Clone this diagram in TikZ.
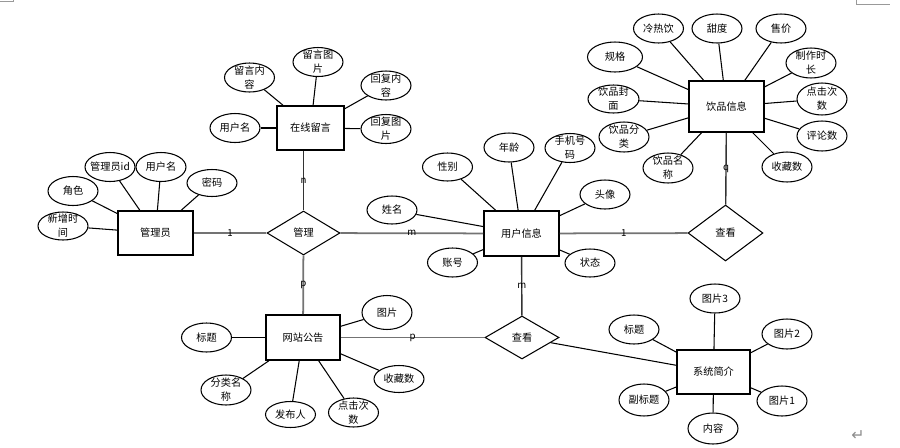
\documentclass[tikz,border=0pt]{standalone}
\usepackage{fontspec}
\setmainfont{Noto Sans CJK SC}
\newfontfamily\symfont{DejaVu Sans}
\usetikzlibrary{shapes.geometric}
\newcommand\attr[4][]{%
  \node[attr,#1] (#2) at (#3) {};
  \node[attrtext] (#2t) at (#2) {#4};}
\begin{document}
\begin{tikzpicture}[x=0.02cm,y=-0.02cm,
  txt/.style={font=\fontsize{5.8}{8}\selectfont},
  entity/.style={draw, line width=0.9pt, minimum width=1.5cm, minimum height=0.88cm, inner sep=0pt, txt},
  attr/.style={draw, ellipse, line width=0.6pt, minimum width=1cm, minimum height=0.58cm, inner sep=0pt},
  attrtext/.style={align=center, inner sep=0pt, txt},
  rel/.style={draw, diamond, line width=0.6pt, inner sep=0pt, minimum width=1.46cm, minimum height=0.88cm, txt},
  attrline/.style={line width=0.6pt},
  relline/.style={line width=1pt, draw=black!55},
  relthin/.style={line width=0.8pt, draw=black!80},
  card/.style={font=\fontsize{5.5}{6}\selectfont, inner sep=0pt},
  pagemark/.style={draw=black!40, line width=0.5pt}
]
\useasboundingbox (0,0) rectangle (900,447);

% entities
\node[entity] (admin) at (155.5,233) {管理员};
\node[entity, minimum width=1.34cm] (msg) at (310.5,128) {在线留言};
\node[entity, minimum height=0.9cm] (user) at (521.5,233.5) {用户信息};
\node[entity, minimum height=1.02cm] (drink) at (726.5,106.5) {饮品信息};
\node[entity, minimum width=1.48cm, minimum height=0.9cm] (notice) at (303,337.5) {网站公告};
\node[entity, minimum width=1.46cm] (intro) at (713.5,372) {系统简介};

% relationships
\node[rel] (manage) at (303.5,233) {管理};
\node[rel, minimum width=1.5cm, minimum height=1.12cm] (view1) at (725.5,233) {查看};
\node[rel, minimum width=1.48cm, minimum height=0.86cm] (view2) at (522,337.5) {查看};

% relationship lines
\draw[relline] (admin) -- node[card]{1} (manage);
\draw[relline] (manage) -- node[card]{m} (user);
\draw[relthin] (manage.north) -- node[card]{n} (manage.north |- msg.south);
\draw[relline] (manage) -- node[card]{p} (notice);
\draw[relline] (user) -- node[card]{1} (view1);
\draw[relthin] (drink) -- node[card]{q} (view1);
\draw[relthin] (user) -- node[card]{m} (view2);
\draw[relline] (notice) -- node[card]{p} (view2);
\draw[attrline] (view2) -- (intro);

% admin attributes
\attr{a1}{73,191}{角色}
\attr{a2}{110,167}{管理员id}
\attr{a3}{161,167}{用户名}
\attr[minimum height=0.54cm]{a4}{212,183}{密码}
\attr[minimum height=0.56cm]{a5}{63,226}{新增时\\间}
\foreach \a in {a1,a2,a3,a4,a5} \draw[attrline] (\a) -- (admin);

% message attributes
\attr{m1}{249.5,77.5}{留言内\\容}
\attr{m2}{318,62}{留言图\\片}
\attr{m3}{386,85.5}{回复内\\容}
\attr{m4}{386,129}{回复图\\片}
\attr{m5}{235,128}{用户名}
\foreach \a in {m1,m2,m3,m4,m5} \draw[attrline] (\a) -- (msg);

% user attributes
\attr[minimum height=0.56cm]{u1}{447.5,167}{性别}
\attr{u2}{509,147.5}{年龄}
\attr{u3}{570,148}{手机号\\码}
\attr{u4}{605,194.5}{头像}
\attr[minimum height=0.56cm]{u5}{392,210}{姓名}
\attr{u6}{452.5,262.5}{账号}
\attr[minimum height=0.56cm]{u7}{590,263}{状态}
\foreach \a in {u1,u2,u3,u4,u5,u6,u7} \draw[attrline] (\a) -- (user);

% drink attributes
\attr{d1}{658.5,28.5}{冷热饮}
\attr{d2}{717,28.5}{甜度}
\attr{d3}{781,28.5}{售价}
\attr[minimum height=0.6cm]{d4}{811,63}{制作时\\长}
\attr[minimum height=0.64cm]{d5}{822,99}{点击次\\数}
\attr[minimum height=0.6cm]{d6}{822,136}{评论数}
\attr[minimum height=0.6cm]{d7}{787,167}{收藏数}
\attr[minimum height=0.6cm]{d8}{668,168}{饮品名\\称}
\attr[minimum height=0.6cm]{d9}{624,137}{饮品分\\类}
\attr[minimum width=1.02cm, minimum height=0.56cm]{d10}{613.5,99}{饮品封\\面}
\attr[minimum width=1.1cm, minimum height=0.6cm]{d11}{615,57}{规格}
\foreach \a in {d1,d2,d3,d4,d5,d6,d7,d8,d9,d10,d11} \draw[attrline] (\a) -- (drink);

% notice attributes
\attr{n1}{206.5,337.5}{标题}
\attr[minimum height=0.68cm]{n2}{387,312.5}{图片}
\attr[minimum height=0.54cm]{n3}{399,379}{收藏数}
\attr{n4}{353.5,412.5}{点击次\\数}
\attr[minimum height=0.52cm]{n5}{290.5,414.5}{发布人}
\attr[minimum height=0.6cm]{n6}{226,390}{分类名\\称}
\foreach \a in {n1,n2,n3,n4,n5,n6} \draw[attrline] (\a) -- (notice);

% intro attributes
\attr{s1}{715,298.5}{图片3}
\attr{s2}{634,329.5}{标题}
\attr[minimum height=0.6cm]{s3}{787,334}{图片2}
\attr[minimum height=0.64cm]{s4}{644,400}{副标题}
\attr[minimum height=0.6cm]{s5}{782,401}{图片1}
\attr[minimum height=0.62cm]{s6}{713,428.5}{内容}
\foreach \a in {s1,s2,s3,s4,s5,s6} \draw[attrline] (\a) -- (intro);

% page marks
\draw[pagemark] (0,1) -- (13,1) -- (13,0);
\draw[pagemark] (856,0) -- (856,4) -- (890,4);
\node[text=black!45, inner sep=0pt, font=\fontsize{9}{10}\symfont] (ret) at (858,436) {↵};
\end{tikzpicture}
\end{document}
